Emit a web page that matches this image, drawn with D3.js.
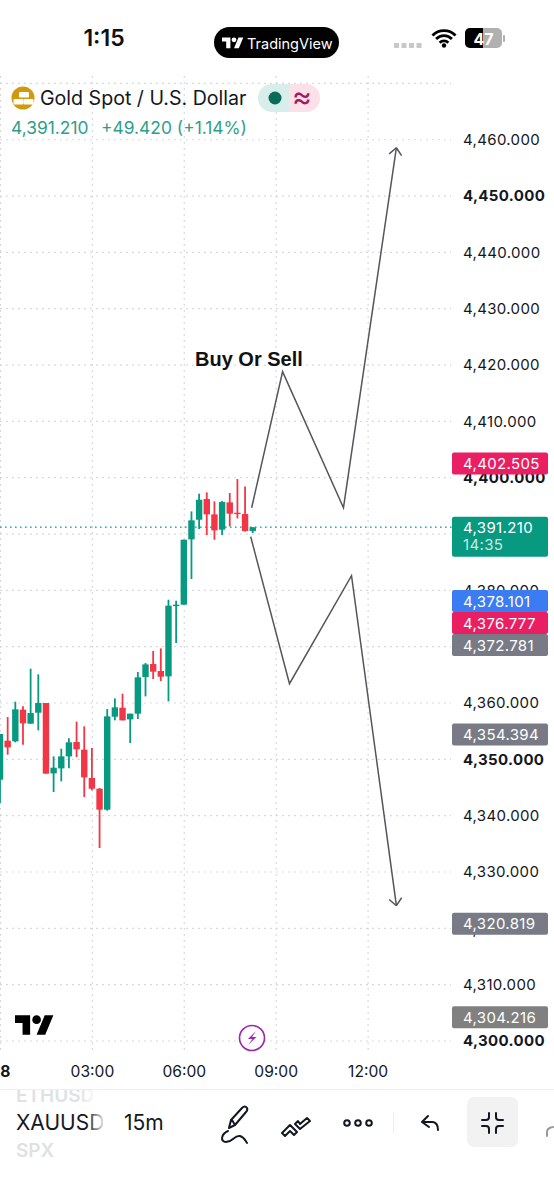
<!DOCTYPE html>
<html><head><meta charset="utf-8">
<script src="https://cdn.jsdelivr.net/npm/d3@7/dist/d3.min.js"></script>
<style>html,body{margin:0;padding:0;background:#fff}svg{display:block}text{font-family:Inter,"Noto Sans",sans-serif}</style>
</head><body><div id="c"></div>
<script>
// Fifteen-minute bars, bar 0 = 00:00
const opens  = [4346.39,4353.31,4353.20,4358.82,4356.33,4358.28,4360.00,4347.51,4348.40,4350.53,4353.08,4351.72,4346.69,4344.79,4341.07,4357.57,4359.17,4357.10,4358.11,4364.62,4366.92,4365.68,4364.73,4377.46,4377.46,4389.05,4392.54,4396.21,4393.49,4390.77,4395.62,4393.79,4393.55,4390.53];
const highs  = [4354.50,4357.51,4360.24,4359.41,4366.10,4365.10,4360.00,4350.53,4351.89,4353.73,4356.69,4355.86,4352.01,4344.91,4358.93,4360.83,4361.66,4358.11,4365.50,4367.10,4369.23,4369.70,4378.34,4378.17,4388.99,4394.02,4397.16,4397.40,4395.80,4395.86,4397.28,4399.76,4398.46,4391.21];
const lows   = [4342.25,4350.83,4353.02,4352.60,4356.33,4355.15,4347.46,4344.20,4346.09,4348.40,4350.41,4343.31,4344.50,4334.26,4340.89,4356.92,4356.92,4352.90,4357.16,4361.18,4364.26,4363.91,4360.30,4370.65,4377.46,4382.01,4390.89,4389.82,4388.99,4389.82,4391.36,4392.78,4390.47,4390.18];
const closes = [4354.50,4352.13,4358.88,4356.39,4358.22,4360.00,4347.46,4348.52,4350.53,4353.02,4351.78,4346.80,4344.79,4341.07,4357.63,4359.23,4356.92,4358.11,4364.56,4366.86,4365.56,4364.67,4377.28,4377.46,4389.00,4392.43,4396.09,4393.49,4390.65,4395.68,4393.61,4393.55,4390.53,4391.21];

const priceTicks = [4300,4310,4320,4330,4340,4350,4360,4370,4380,4390,4400,4410,4420,4430,4440,4450,4460];
const gridPrices = [4300,4310,4320,4330,4340,4350,4360,4370,4380,4390,4400,4410,4420,4430,4440,4450,4460,4470];
const timeTicks  = [0,12,24,36,48];
const timeLabels = ["28","03:00","06:00","09:00","12:00"];

const lastPrice = 4391.21;
const badgePrices = [4402.505,4378.101,4376.777,4372.781,4354.394,4320.819,4304.216];
const badgeColors = ["#e91e63","#3b7cf2","#e91e63","#787b86","#787b86","#787b86","#808080"];

const upBars = [32.86,36.9,44.85,51.76];
const upPrices = [4394.67,4418.82,4394.67,4458.58];
const downBars = [32.73,37.8,45.9,51.76];
const downPrices = [4389.53,4363.43,4382.6,4324.02];

const W=554,H=1200;
const svg=d3.select("#c").append("svg").attr("width",W).attr("height",H).attr("viewBox",[0,0,W,H]);
const x=d3.scaleLinear().domain([0,48]).range([0,367.6]);
const y=d3.scaleLinear().domain([4300,4470]).range([1041,83.4]);
const GREEN="#089981",RED="#f23645",GRID="#d3d5da";

// grid
const g=svg.append("g");
g.selectAll(".h").data(gridPrices).join("line").attr("x1",0).attr("x2",451).attr("y1",d=>y(d)).attr("y2",d=>y(d)).attr("stroke",GRID).attr("stroke-width",1.2).attr("stroke-dasharray","1.8 4.2");
g.selectAll(".v").data(timeTicks).join("line").attr("x1",d=>x(d)+.5).attr("x2",d=>x(d)+.5).attr("y1",76).attr("y2",1052).attr("stroke",GRID).attr("stroke-width",1.2).attr("stroke-dasharray","1.8 4.2");

// last price line
svg.append("line").attr("x1",0).attr("x2",452).attr("y1",y(lastPrice)).attr("y2",y(lastPrice)).attr("stroke",GREEN).attr("stroke-width",1.3).attr("stroke-dasharray","1.6 3.4");

// candles
const cs=svg.append("g").selectAll("g").data(opens.map((o,i)=>({i,o,h:highs[i],l:lows[i],c:closes[i]}))).join("g");
const col=d=>d.c>=d.o?GREEN:RED;
cs.append("line").attr("x1",d=>x(d.i)).attr("x2",d=>x(d.i)).attr("y1",d=>y(d.h)).attr("y2",d=>y(d.l)).attr("stroke",col).attr("stroke-width",1.8);
cs.append("rect").attr("x",d=>x(d.i)-3.2).attr("width",6.4).attr("y",d=>y(Math.max(d.o,d.c))).attr("height",d=>Math.max(1.4,Math.abs(y(d.o)-y(d.c)))).attr("fill",col);

// drawings
const ln=d3.line().x(d=>x(d[0])).y(d=>y(d[1]));
function route(bars,prices){
  const pts=bars.map((b,i)=>[b,prices[i]]);
  svg.append("path").attr("d",ln(pts)).attr("fill","none").attr("stroke","#55555a").attr("stroke-width",1.5);
  const a=pts[pts.length-2],b=pts[pts.length-1];
  const ax=x(a[0]),ay=y(a[1]),bx=x(b[0]),by=y(b[1]);
  const t=Math.atan2(by-ay,bx-ax);
  [0.72,-0.72].forEach(o=>svg.append("line").attr("x1",bx).attr("y1",by).attr("x2",bx-9.5*Math.cos(t+o)).attr("y2",by-9.5*Math.sin(t+o)).attr("stroke","#55555a").attr("stroke-width",1.5));
}
route(upBars,upPrices);route(downBars,downPrices);
svg.append("text").attr("x",195).attr("y",366).attr("font-size",20).attr("font-weight",700).style("font-family","'Liberation Sans',sans-serif").attr("fill","#111").text("Buy Or Sell");

// price axis
const ay=svg.append("g").attr("transform","translate(463,0)").call(d3.axisRight(y).tickValues(priceTicks).tickSize(0).tickPadding(0).tickFormat(d3.format(",.3f")));
ay.select(".domain").remove();
ay.selectAll("text").attr("font-size",15).attr("letter-spacing",.35).attr("fill","#131722").style("font-family","Inter").attr("font-weight",d=>d%50===0?700:400);

// time axis
const ax=svg.append("g").attr("transform","translate(0,1066)").call(d3.axisBottom(x).tickValues(timeTicks).tickSize(0).tickPadding(0).tickFormat((d,i)=>timeLabels[i]));
ax.select(".domain").remove();
ax.selectAll("text").attr("font-size",15.6).attr("fill","#131722").style("font-family","Inter").attr("font-weight",(d,i)=>i===0?700:400);

// badges
const BH=22;let prev=-1e9;
const rows=badgePrices.map((p,i)=>{let c=y(p);if(c-BH/2<prev)c=prev+BH/2;prev=c+BH/2;return{p,c,col:badgeColors[i]};});
const bg=svg.append("g");
const last=bg.append("g");
last.append("rect").attr("x",452).attr("width",96).attr("y",y(lastPrice)-10.5).attr("height",40).attr("rx",2).attr("fill",GREEN);
last.append("text").attr("x",463).attr("y",y(lastPrice)+5.5).attr("font-size",15).attr("letter-spacing",.35).attr("fill","#fff").text(d3.format(",.3f")(lastPrice));
last.append("text").attr("x",463).attr("y",y(lastPrice)+23).attr("font-size",15).attr("letter-spacing",.35).attr("fill","#fff").attr("fill-opacity",.8).text("14:35");
rows.forEach(r=>{
  bg.append("rect").attr("x",452).attr("width",96).attr("y",r.c-BH/2).attr("height",BH).attr("rx",2).attr("fill",r.col);
  bg.append("text").attr("x",463).attr("y",r.c+5.5).attr("font-size",15).attr("letter-spacing",.35).attr("fill","#fff").text(d3.format(",.3f")(r.p));
});

// status bar
svg.append("text").attr("x",104).attr("y",46).attr("text-anchor","middle").attr("font-size",23).attr("font-weight",600).attr("fill","#111").text("1:15");
svg.append("rect").attr("x",214).attr("y",27).attr("width",125).attr("height",31).attr("rx",15.5).attr("fill","#000");
const TV="M14 22H7V11H0V4h14v18zM28 22h-8l7.5-18h8L28 22z";
function logo(tx,ty,s,c){const l=svg.append("g").attr("transform",`translate(${tx},${ty}) scale(${s})`).attr("fill",c);l.append("path").attr("d",TV);l.append("circle").attr("cx",20).attr("cy",8).attr("r",4);}
logo(222,35,.6,"#fff");
svg.append("text").attr("x",247).attr("y",49).attr("font-size",14.5).attr("fill","#fff").text("TradingView");
[394,401.5,409,416.5].forEach(v=>svg.append("rect").attr("x",v).attr("y",43).attr("width",5).attr("height",5).attr("fill","#c8c8c8"));
// wifi
const wf=svg.append("g").attr("transform","translate(444,47)").attr("fill","none").attr("stroke","#000").attr("stroke-width",2.8);
[6,11,16].forEach(r=>wf.append("path").attr("d",`M${-r*.72} ${-r*.72}A${r} ${r} 0 0 1 ${r*.72} ${-r*.72}`));
wf.append("circle").attr("cy",-1.5).attr("r",2.2).attr("fill","#000").attr("stroke","none");
// battery
svg.append("rect").attr("x",465).attr("y",28).attr("width",37).attr("height",20).attr("rx",5).attr("fill","#b0b0b0");
svg.append("path").attr("d","M470 28H483V48H470A5 5 0 0 1 465 43V33A5 5 0 0 1 470 28Z").attr("fill","#000");
svg.append("rect").attr("x",503).attr("y",35).attr("width",2).attr("height",7).attr("rx",1).attr("fill","#b0b0b0");
svg.append("text").attr("x",483.5).attr("y",44.5).attr("text-anchor","middle").attr("font-size",16).attr("font-weight",700).attr("fill","#fff").text("47");

// legend
svg.append("circle").attr("cx",23).attr("cy",98).attr("r",11.5).attr("fill","#d19a0c");
[[19,92,10],[13.5,99,10],[23.5,99,10]].forEach(a=>svg.append("rect").attr("x",a[0]).attr("y",a[1]).attr("width",a[2]).attr("height",5.5).attr("rx",1).attr("fill","#fff"));
svg.append("text").attr("x",40).attr("y",105).attr("font-size",19.6).attr("fill","#131722").text("Gold Spot / U.S. Dollar");
svg.append("path").attr("d","M289 84H272A14 14 0 0 0 272 112H289Z").attr("fill","#d8eeea");
svg.append("path").attr("d","M289 84H306A14 14 0 0 1 306 112H289Z").attr("fill","#fbdfe9");
svg.append("circle").attr("cx",275).attr("cy",98).attr("r",6.5).attr("fill","#0b6b5a");
svg.append("text").attr("x",302).attr("y",107).attr("text-anchor","middle").attr("font-size",30).attr("fill","#a8185d").text("≈");
const sub=svg.append("text").attr("y",134).attr("font-size",17.4).attr("fill","#2f9e8b");
sub.append("tspan").attr("x",11).text("4,391.210");
sub.append("tspan").attr("x",101).text("+49.420 (+1.14%)");

// logo & flash
logo(15,1011,1.08,"#000");
svg.append("circle").attr("cx",252).attr("cy",1038).attr("r",12.5).attr("fill","#fff").attr("stroke","#9c27b0").attr("stroke-width",1.6);
svg.append("path").attr("d","M256 1031L248 1039H252.5L248 1045L256.5 1037H252Z").attr("fill","#9c27b0");

// toolbar
svg.append("line").attr("x1",0).attr("x2",W).attr("y1",1089.5).attr("y2",1089.5).attr("stroke","#eceef0");
const defs=svg.append("defs");
const gr=defs.append("linearGradient").attr("id","fade");
gr.append("stop").attr("offset","0.8").attr("stop-color","#131722");gr.append("stop").attr("offset","1").attr("stop-color","#131722").attr("stop-opacity",.1);
const gl=defs.append("linearGradient").attr("id","fadeL");
gl.append("stop").attr("offset","0.8").attr("stop-color","#dfe1e5");gl.append("stop").attr("offset","1").attr("stop-color","#dfe1e5").attr("stop-opacity",.2);
defs.append("clipPath").attr("id","cl").append("rect").attr("x",0).attr("y",1090).attr("width",103).attr("height",80);
const tb=svg.append("g").attr("clip-path","url(#cl)");
tb.append("text").attr("x",16).attr("y",1102).attr("font-size",19).attr("font-weight",600).attr("fill","url(#fadeL)").text("ETHUSD");
tb.append("text").attr("x",16).attr("y",1130).attr("font-size",21).attr("fill","url(#fade)").text("XAUUSD");
tb.append("text").attr("x",16).attr("y",1157).attr("font-size",19).attr("font-weight",600).attr("fill","#dfe1e5").text("SPX");
svg.append("text").attr("x",124).attr("y",1130).attr("font-size",21).attr("fill","#131722").text("15m");
svg.append("line").attr("x1",393.5).attr("x2",393.5).attr("y1",1112).attr("y2",1134).attr("stroke","#eeeeee");
svg.append("rect").attr("x",467).attr("y",1097).attr("width",51).attr("height",50).attr("rx",7).attr("fill","#f2f2f2");
const ic=svg.append("g").attr("fill","none").attr("stroke","#131722").attr("stroke-width",2).attr("stroke-linecap","round").attr("stroke-linejoin","round");
ic.append("path").attr("d","M229 1128L231 1120L242 1108Q245 1105 247 1108Q248 1110 246 1112L235 1125Z M232 1120L235 1125 M228 1131C221 1134 220 1142 226 1142C233 1142 234 1135 240 1136C244 1137 245 1140 247 1143");
ic.append("path").attr("d","M282 1133L290 1125L297 1132L294 1135L290 1131L285 1136Z M295 1124L300 1129L310 1121L307 1118L300 1124L298 1121Z");
[347,358,369].forEach(v=>ic.append("circle").attr("cx",v).attr("cy",1123).attr("r",2.8));
ic.append("path").attr("d","M428 1116L422 1122L429 1127 M422 1122H433Q438 1123 438 1130");
ic.append("path").attr("d","M489 1113V1117Q489 1120 486 1120H482 M496 1113V1117Q496 1120 499 1120H503 M489 1133V1129Q489 1126 486 1126H482 M496 1133V1129Q496 1126 499 1126H503");
ic.append("path").attr("d","M547 1136V1132Q547 1128 553 1127").attr("stroke","#999");
</script></body></html>
